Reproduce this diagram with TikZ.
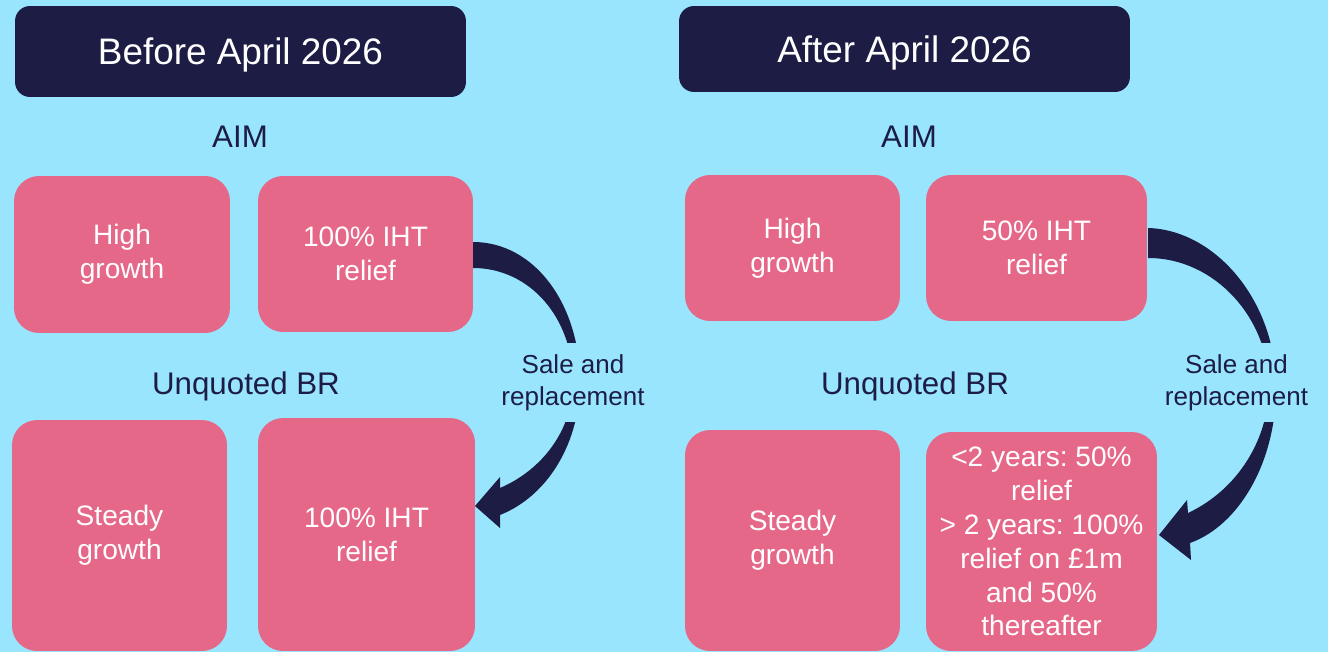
\documentclass[tikz,border=0pt]{standalone}
\usepackage{fontspec}
\setmainfont{Liberation Sans}
\frenchspacing
\definecolor{bgblue}{HTML}{99E5FE}
\definecolor{navy}{HTML}{1C1C44}
\definecolor{pinkbox}{HTML}{E66889}
\begin{document}
\begin{tikzpicture}[x=0.02cm,y=-0.02cm,
  header/.style={fill=navy,rounded corners=0.3cm,text=white,minimum width=9.02cm,inner sep=0pt,text depth=0pt,font=\fontsize{21}{25}\selectfont\frenchspacing},
  pbox/.style={fill=pinkbox,rounded corners=0.5cm,text=white,inner sep=0pt,align=center,font=\fontsize{16}{19.3}\selectfont\frenchspacing},
  lbl/.style={text=navy,anchor=base,inner sep=0pt,font=\fontsize{17.8}{21}\selectfont},
  saletxt/.style={fill=bgblue,text=navy,align=center,inner sep=0pt,minimum height=1.58cm,font=\fontsize{14.8}{18.1}\selectfont},
  bigarrow/.style={fill=navy,draw=none}]
\fill[bgblue] (0,0) rectangle (1328,652);
\useasboundingbox (0,0) rectangle (1328,652);
% headers
\node[header,minimum height=1.82cm] (hL) at (240.5,51.5) {Before April 2026};
\node[header,minimum height=1.72cm] (hR) at (904.5,49) {After April 2026};
% labels
\node[lbl] (aimL) at (240,147) {AIM};
\node[lbl] (aimR) at (909,147) {AIM};
\node[lbl] (ubrL) at (246,394) {Unquoted BR};
\node[lbl] (ubrR) at (915,394) {Unquoted BR};
% left boxes
\node[pbox,minimum width=4.32cm,minimum height=3.14cm] (b1) at (122,254.5) {High\\growth};
\node[pbox,minimum width=4.30cm,minimum height=3.12cm] (b2) at (365.5,254) {100\% IHT\\relief};
\node[pbox,minimum width=4.30cm,minimum height=4.62cm] (b3) at (119.5,535.5) {Steady\\growth};
\node[pbox,minimum width=4.34cm,minimum height=4.66cm] (b4) at (366.5,534.5) {100\% IHT\\relief};
% right boxes
\node[pbox,minimum width=4.30cm,minimum height=2.92cm] (r1) at (792.5,248) {High\\growth};
\node[pbox,minimum width=4.42cm,minimum height=2.92cm] (r2) at (1036.5,248) {50\% IHT\\relief};
\node[pbox,minimum width=4.30cm,minimum height=4.42cm] (r3) at (792.5,540.5) {Steady\\growth};
\node[pbox,minimum width=4.62cm,minimum height=4.38cm] (r4) at (1041.5,541.5) {<2 years: 50\%\\relief\\> 2 years: 100\%\\relief on £1m\\and 50\%\\thereafter};
% curved arrows
\fill[bigarrow] (473,242) .. controls (535,242) and (580,305) .. (580,382)
  .. controls (580,440) and (550,495) .. (500,515)
  -- (500,528) -- (475,506) -- (500,477) -- (500,488)
  .. controls (542,470) and (573,430) .. (573,382)
  .. controls (573,318) and (530,268) .. (473,268) -- cycle;
\fill[bigarrow] (1148,228) .. controls (1215,230) and (1275,300) .. (1276,385)
  .. controls (1277,460) and (1240,525) .. (1190,543)
  -- (1191,560) -- (1159,535) -- (1187,500) -- (1188,513)
  .. controls (1237,490) and (1269,440) .. (1269,385)
  .. controls (1268,318) and (1215,258) .. (1148,258) -- cycle;
% sale labels
\node[saletxt] (sL) at (573,382.5) {Sale and\\replacement};
\node[saletxt] (sR) at (1236.5,382.5) {Sale and\\replacement};
\end{tikzpicture}
\end{document}
